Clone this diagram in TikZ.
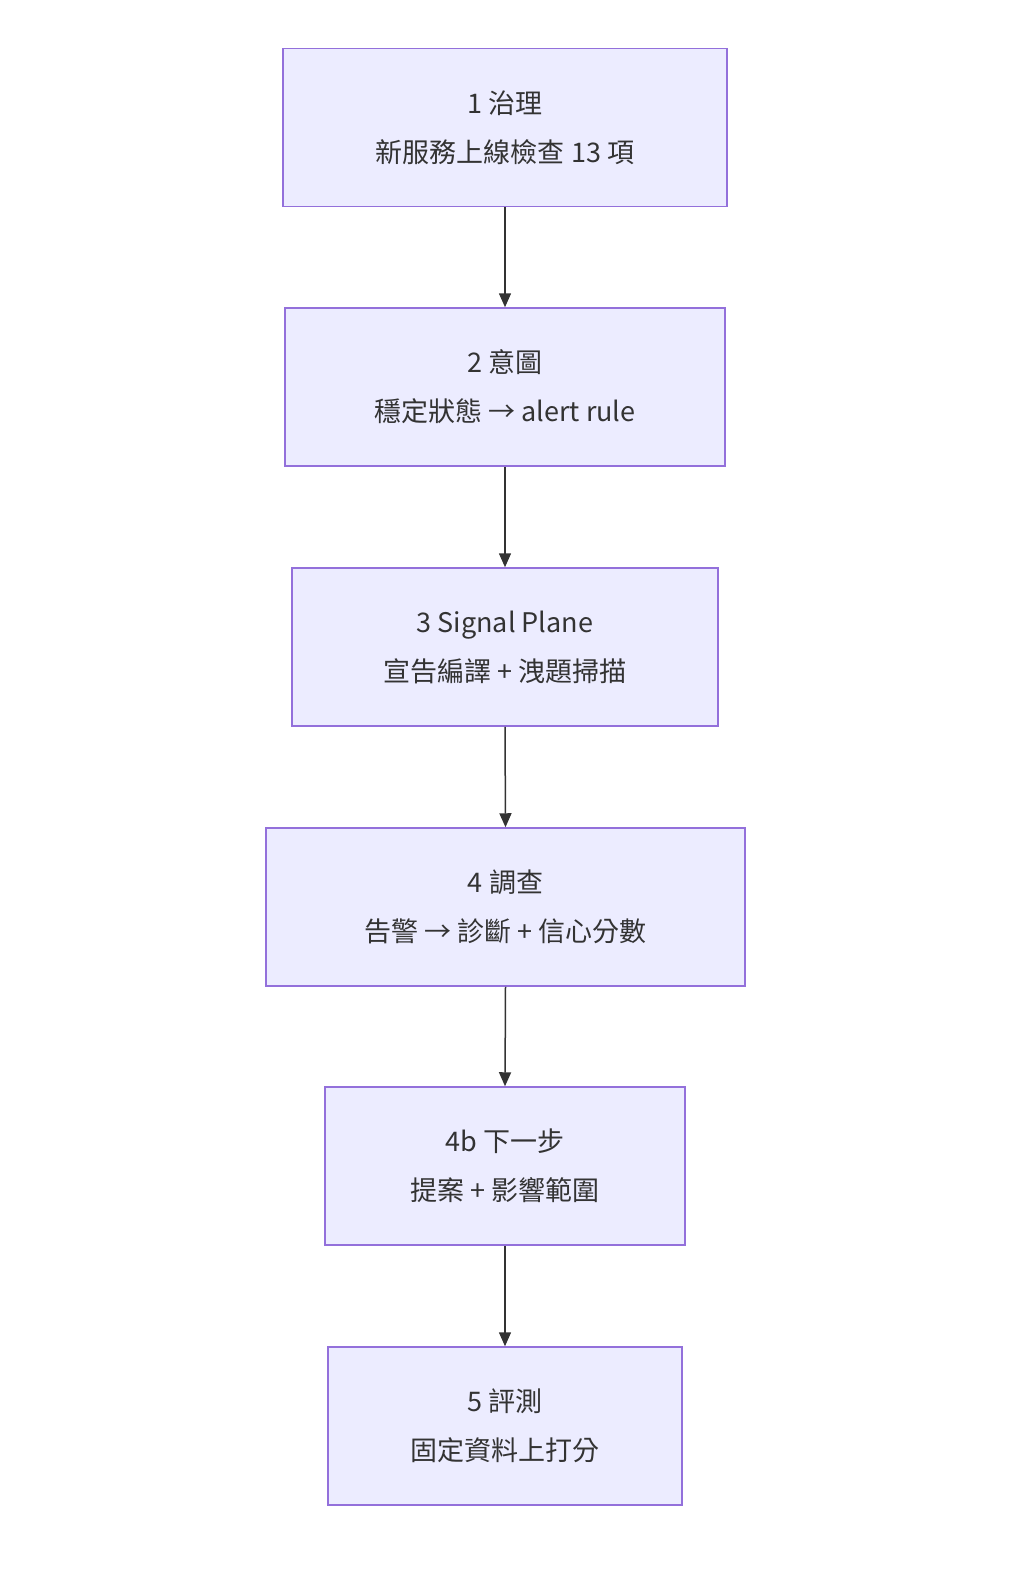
\documentclass[tikz,border=0pt]{standalone}
\usepackage{fontspec}
\setmainfont{Noto Sans CJK TC}
\usetikzlibrary{arrows.meta}
\definecolor{boxfill}{HTML}{ECECFF}
\definecolor{boxline}{HTML}{9370DB}
\definecolor{txt}{HTML}{333333}
\begin{document}
\begin{tikzpicture}[x=1pt,y=-1pt,
  box/.style={draw=boxline,fill=boxfill,line width=1.5pt,align=center,text=txt,
    font=\fontsize{27}{49}\selectfont,inner sep=0pt,minimum height=158pt},
  arr/.style={draw=txt,line width=1.5pt,-{Triangle[length=14pt,width=12pt]}}]
\useasboundingbox (0,0) rectangle (1024,1587);
\node[box,minimum width=444pt] (a) at (505,127.5) {1 治理\\新服務上線檢查 13 項};
\node[box,minimum width=440pt] (b) at (505,387) {2 意圖\\穩定狀態 → alert rule};
\node[box,minimum width=426pt] (c) at (505,647) {3 Signal Plane\\宣告編譯 + 洩題掃描};
\node[box,minimum width=479pt] (d) at (505.5,907) {4 調查\\告警 → 診斷 + 信心分數};
\node[box,minimum width=360pt] (e) at (505,1166) {4b 下一步\\提案 + 影響範圍};
\node[box,minimum width=354pt] (f) at (505,1426) {5 評測\\固定資料上打分};
\draw[arr] (a.south) -- (b.north);
\draw[arr] (b.south) -- (c.north);
\draw[arr] (c.south) -- (d.north);
\draw[arr] (d.south) -- (e.north);
\draw[arr] (e.south) -- (f.north);
\end{tikzpicture}
\end{document}
